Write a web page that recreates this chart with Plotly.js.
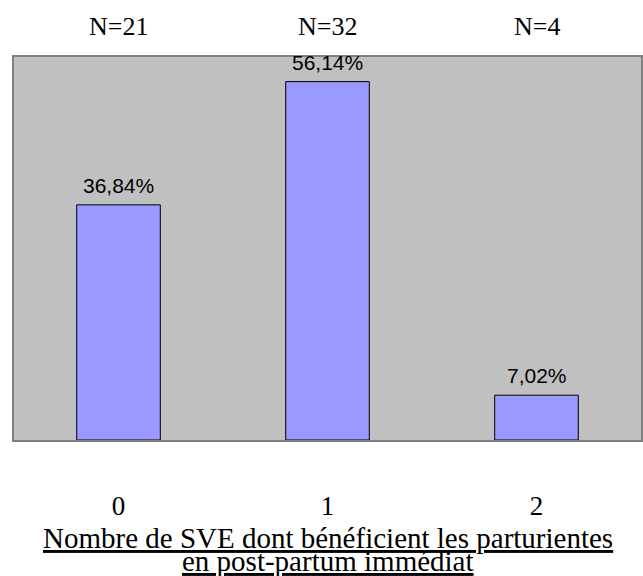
<!DOCTYPE html>
<html>
<head>
<meta charset="utf-8">
<script src="https://cdn.plot.ly/plotly-3.0.1.min.js"></script>
<style>html,body{margin:0;padding:0;background:#fff;}#chart{width:643px;height:576px;}</style>
</head>
<body>
<div id="chart"></div>
<script>
const categories = ["0", "1", "2"];
const percentages = [36.84, 56.14, 7.02];
const counts = [21, 32, 4];
const titleLines = ["Nombre de SVE dont bénéficient les parturientes", "en post-partum immédiat"];

const labels = percentages.map(v => v.toFixed(2).replace('.', ',') + '%');

const serif = 'Liberation Serif, Times New Roman, serif';
const sans = 'Liberation Sans, Arial, sans-serif';

const trace = {
  type: 'bar',
  x: categories,
  y: percentages,
  marker: {color: '#9999FF', line: {color: '#000', width: 1}},
  hoverinfo: 'none'
};

const valueAnnotations = categories.map((c, i) => ({
  x: c, xref: 'x', y: percentages[i], yref: 'y', yanchor: 'bottom', yshift: 6,
  text: labels[i], showarrow: false,
  font: {family: sans, size: 21, color: '#000'}
}));

const countAnnotations = categories.map((c, i) => ({
  x: c, xref: 'x', y: 1, yref: 'paper', yanchor: 'bottom', yshift: 14,
  text: 'N=' + counts[i], showarrow: false,
  font: {family: serif, size: 26, color: '#000'}
}));

const titleY = [-0.256, -0.316];
const titleAnnotations = titleLines.map((t, i) => ({
  x: 0.5, xref: 'paper', y: titleY[i], yref: 'paper', yanchor: 'middle',
  text: t, showarrow: false,
  font: {family: serif, size: 29, color: '#000', lineposition: 'under'}
}));

const layout = {
  width: 643, height: 576,
  margin: {l: 14, r: 2, t: 57, b: 136, pad: 0},
  paper_bgcolor: '#ffffff',
  plot_bgcolor: '#C0C0C0',
  bargap: 0.6,
  showlegend: false,
  xaxis: {
    type: 'category',
    showgrid: false, zeroline: false,
    showline: true, mirror: true, linecolor: '#808080', linewidth: 2,
    ticks: '', ticklabelstandoff: 41,
    tickfont: {family: serif, size: 27, color: '#000'}
  },
  yaxis: {
    range: [0, 60],
    showgrid: false, zeroline: false, showticklabels: false, ticks: '',
    showline: true, mirror: true, linecolor: '#808080', linewidth: 2
  },
  annotations: valueAnnotations.concat(countAnnotations, titleAnnotations)
};

Plotly.newPlot('chart', [trace], layout, {displayModeBar: false, staticPlot: true});
</script>
</body>
</html>
